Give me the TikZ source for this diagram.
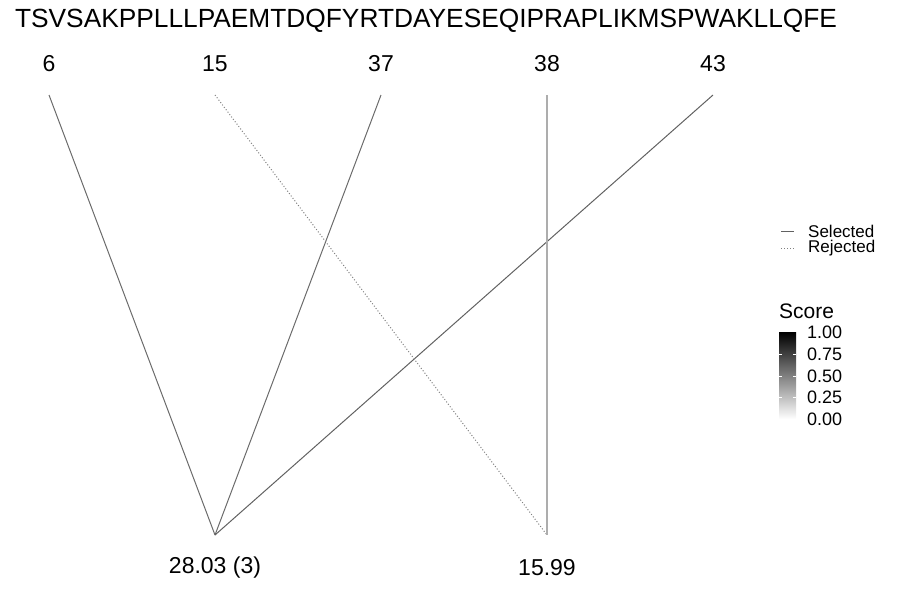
\documentclass[tikz,border=0pt]{standalone}
\usepackage{fontspec}
\setmainfont{Liberation Sans}
\usepackage{tikz}
\usetikzlibrary{positioning, calc}
\definecolor{linedark}{gray}{0.38}
\definecolor{linemid}{gray}{0.42}
\definecolor{linelight}{gray}{0.68}
\definecolor{linerej}{gray}{0.50}
\tikzset{
  seqlabel/.style={font=\fontsize{26.3}{26.3}\selectfont, inner sep=0pt},
  poslabel/.style={font=\fontsize{23}{23}\selectfont, inner sep=0pt},
  scorelabel/.style={font=\fontsize{23}{23}\selectfont, inner sep=0pt},
  legtext/.style={font=\fontsize{17}{17}\selectfont, inner sep=0pt, anchor=west},
  ticktext/.style={font=\fontsize{18}{18}\selectfont, inner sep=0pt, anchor=west},
  selected/.style={line width=1pt},
  rejected/.style={line width=1pt, dotted, color=linerej}
}
\begin{document}
\begin{tikzpicture}[x=1pt, y=-1pt]
  \useasboundingbox (0,0) rectangle (900,600);
  % peptide sequence
  \node[seqlabel] (seq) at (426,21) {TSVSAKPPLLLPAEMTDQFYRTDAYESEQIPRAPLIKMSPWAKLLQFE};
  % site positions
  \foreach \p/\x in {6/49, 15/215, 37/381, 38/547, 43/713} {
    \node[poslabel] (p\p) at (\x,64) {\p};
    \coordinate (t\p) at (\x,95);
  }
  % score ends
  \coordinate (s1) at (215,535);
  \coordinate (s2) at (547,535);
  \node[scorelabel] (l1) at (215,568) {28.03 (3)};
  \node[scorelabel] (l2) at (547,568) {15.99};
  % connections
  \draw[selected, linemid] (t6) -- (s1);
  \draw[selected, linemid] (t37) -- (s1);
  \draw[selected, linedark] (t43) -- (s1);
  \draw[rejected] (t15) -- (s2);
  \draw[selected, linelight, line width=1.4pt] (t38) -- (s2);
  % legend
  \coordinate (sa) at (781,231);
  \coordinate (sb) at (794,231);
  \draw[selected, linedark] (sa) -- (sb);
  \node[legtext] (selt) at (808,231) {Selected};
  \coordinate (ra) at (781,248);
  \coordinate (rb) at (794,248);
  \draw[rejected] (ra) -- (rb);
  \node[legtext] (rejt) at (808,248) {Rejected};
  % colour bar
  \node[scorelabel, anchor=west, font=\fontsize{21}{21}\selectfont] (ttl) at (779,311) {Score};
  \shade[top color=black, bottom color=white] (779,332) rectangle (796,419);
  \foreach \v/\y in {1.00/332, 0.75/354, 0.50/376, 0.25/397, 0.00/419} {
    \node[ticktext] at (807,\y) {\v};
  }
  \foreach \y in {354, 376, 397} {
    \draw[white, line width=0.5pt] (779,\y) -- (782,\y);
    \draw[white, line width=0.5pt] (793,\y) -- (796,\y);
  }
\end{tikzpicture}
\end{document}
